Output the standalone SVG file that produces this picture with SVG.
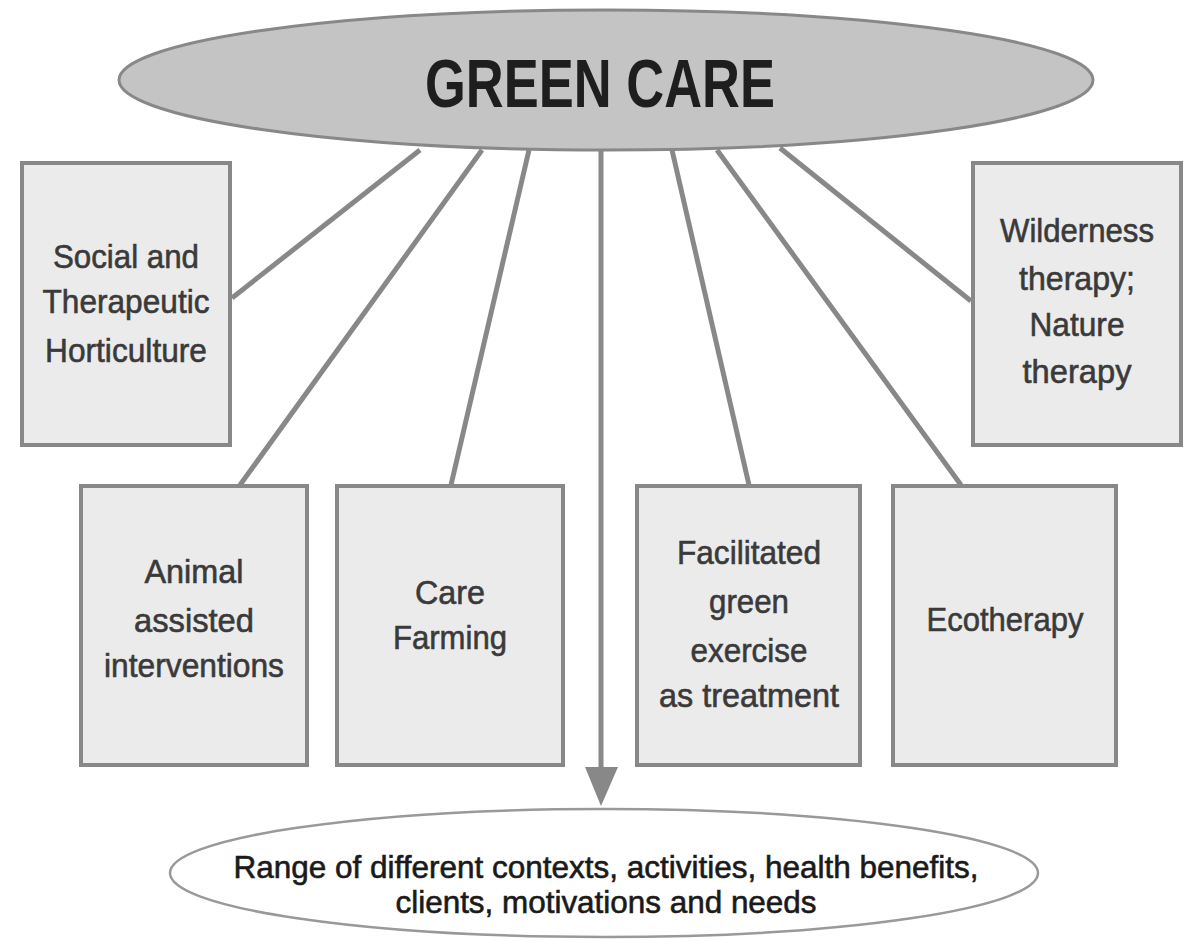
<svg xmlns="http://www.w3.org/2000/svg" width="1187" height="941" viewBox="0 0 1187 941">
<style>
.box{fill:#ebebeb;stroke:#888;stroke-width:4}
.lbl{font-family:"Liberation Sans",Arial,sans-serif;font-size:34px;fill:#3a3a3a;stroke:#3a3a3a;stroke-width:0.6;text-anchor:middle}
.bot{font-family:"Liberation Sans",Arial,sans-serif;font-size:32px;fill:#1a1a1a;stroke:#1a1a1a;stroke-width:0.6;text-anchor:middle}
.con{stroke:#888;stroke-width:5;fill:none;stroke-linecap:butt}
</style>
<rect width="1187" height="941" fill="#fff"/>
<g id="connectors">
<line class="con" x1="420" y1="150" x2="232" y2="298"/>
<line class="con" x1="482" y1="150" x2="240" y2="485"/>
<line class="con" x1="529" y1="150" x2="451" y2="485"/>
<line class="con" x1="601" y1="150" x2="601" y2="770"/>
<polygon points="585,767 618,767 601,806" fill="#888"/>
<line class="con" x1="672" y1="150" x2="749" y2="485"/>
<line class="con" x1="717" y1="150" x2="961" y2="485"/>
<line class="con" x1="780" y1="148" x2="971" y2="301"/>
</g>
<g id="green-care">
<ellipse cx="606" cy="80" rx="487" ry="70" fill="#c4c4c4" stroke="#888" stroke-width="3"/>
<text x="600" y="107" font-family="Liberation Sans,Arial,sans-serif" font-size="68" font-weight="bold" fill="#1e1e1e" text-anchor="middle" textLength="350" lengthAdjust="spacingAndGlyphs">GREEN CARE</text>
</g>
<g id="social">
<rect class="box" x="22" y="163" width="208" height="282"/>
<text class="lbl" x="126" y="268" textLength="146" lengthAdjust="spacingAndGlyphs">Social and</text>
<text class="lbl" x="126" y="313" textLength="167" lengthAdjust="spacingAndGlyphs">Therapeutic</text>
<text class="lbl" x="126" y="362" textLength="162" lengthAdjust="spacingAndGlyphs">Horticulture</text>
</g>
<g id="wilderness">
<rect class="box" x="973" y="163" width="208" height="282"/>
<text class="lbl" x="1077" y="242" textLength="154" lengthAdjust="spacingAndGlyphs">Wilderness</text>
<text class="lbl" x="1077" y="290" textLength="116" lengthAdjust="spacingAndGlyphs">therapy;</text>
<text class="lbl" x="1077" y="336" textLength="95" lengthAdjust="spacingAndGlyphs">Nature</text>
<text class="lbl" x="1077" y="383" textLength="109" lengthAdjust="spacingAndGlyphs">therapy</text>
</g>
<g id="animal">
<rect class="box" x="81" y="486" width="226" height="279"/>
<text class="lbl" x="194" y="583" textLength="99" lengthAdjust="spacingAndGlyphs">Animal</text>
<text class="lbl" x="194" y="632" textLength="120" lengthAdjust="spacingAndGlyphs">assisted</text>
<text class="lbl" x="194" y="677" textLength="180" lengthAdjust="spacingAndGlyphs">interventions</text>
</g>
<g id="care-farming">
<rect class="box" x="337" y="486" width="226" height="279"/>
<text class="lbl" x="450" y="604" textLength="70" lengthAdjust="spacingAndGlyphs">Care</text>
<text class="lbl" x="450" y="649" textLength="114" lengthAdjust="spacingAndGlyphs">Farming</text>
</g>
<g id="facilitated">
<rect class="box" x="637" y="486" width="223" height="279"/>
<text class="lbl" x="749" y="564" textLength="144" lengthAdjust="spacingAndGlyphs">Facilitated</text>
<text class="lbl" x="749" y="613" textLength="80" lengthAdjust="spacingAndGlyphs">green</text>
<text class="lbl" x="749" y="662" textLength="117" lengthAdjust="spacingAndGlyphs">exercise</text>
<text class="lbl" x="749" y="707" textLength="180" lengthAdjust="spacingAndGlyphs">as treatment</text>
</g>
<g id="ecotherapy">
<rect class="box" x="893" y="486" width="223" height="279"/>
<text class="lbl" x="1005" y="631" textLength="157" lengthAdjust="spacingAndGlyphs">Ecotherapy</text>
</g>
<g id="range">
<ellipse cx="604" cy="873" rx="434" ry="64" fill="#fff" stroke="#999" stroke-width="2.5"/>
<text class="bot" x="606" y="878" textLength="745" lengthAdjust="spacingAndGlyphs">Range of different contexts, activities, health benefits,</text>
<text class="bot" x="606" y="913" textLength="421" lengthAdjust="spacingAndGlyphs">clients, motivations and needs</text>
</g>
</svg>
